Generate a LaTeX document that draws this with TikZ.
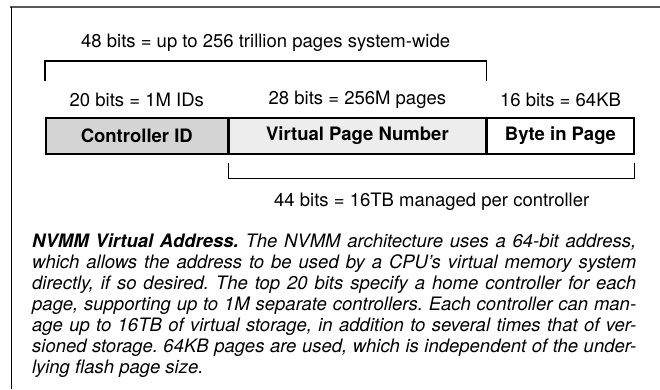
\documentclass[tikz,border=0pt]{standalone}
\usepackage{fontspec}
\setmainfont{TeX Gyre Heros}
\usetikzlibrary{positioning, calc}
\frenchspacing

\definecolor{idgray}{gray}{0.83}
\definecolor{vpngray}{gray}{0.93}
\definecolor{framegray}{gray}{0.35}
\newcommand{\figfont}{\fontsize{18.5}{21}\selectfont}

\begin{document}
\begin{tikzpicture}[
    x=1pt, y=-1pt,
    field/.style={draw, line width=1.6pt, minimum height=36pt, inner sep=0pt, font=\figfont\bfseries},
    bitlabel/.style={font=\figfont, inner sep=0pt},
    bracket/.style={line width=1.3pt},
    caption/.style={font=\figfont\itshape, text width=604pt, align=justify, inner sep=0pt, anchor=north west},
]
\useasboundingbox (0,0) rectangle (660,389);

% ── Frame ──
\draw[framegray, line width=2.2pt] (10,7) -- (660,7);
\draw[line width=0.8pt] (11,7) -- (11,389);

% ── Address fields ──
\node[field, fill=idgray, minimum width=182pt, anchor=north west] (ctrl) at (45,117) {Controller ID};
\node[field, fill=vpngray, minimum width=256pt, right=0pt of ctrl] (vpn) {Virtual Page Number};
\node[field, fill=white, minimum width=147pt, right=0pt of vpn] (byte) {Byte in Page};

% ── Field widths ──
\node[bitlabel] (ctrlbits) at ($(ctrl.north)+(0,-17)$) {20 bits = 1M IDs};
\node[bitlabel] (vpnbits) at ($(vpn.north)+(0,-17)$) {28 bits = 256M pages};
\node[bitlabel] (bytebits) at ($(byte.north)+(0,-17)$) {16 bits = 64KB};

% ── Brackets ──
\draw[bracket] ($(ctrl.north west)+(0,-36)$) -- ++(0,-20) -| ($(vpn.north east)+(0,-36)$);
\node[bitlabel] (span48) at ($(ctrl.north west)!0.5!(vpn.north east)+(0,-74)$) {48 bits = up to 256 trillion pages system-wide};

\draw[bracket] ($(vpn.south west)+(0,8)$) -- ++(0,16) -| ($(byte.south east)+(0,8)$);
\node[bitlabel] (span44) at ($(vpn.south west)!0.5!(byte.south east)+(0,47)$) {44 bits = 16TB managed per controller};

% ── Caption ──
\node[caption] (cap) at (32,234) {{\bfseries NVMM Virtual Address.} The NVMM architecture uses a 64-bit address,\linebreak
which allows the address to be used by a CPU’s virtual memory system\linebreak
directly, if so desired. The top 20 bits specify a home controller for each\linebreak
page, supporting up to 1M separate controllers. Each controller can man-\linebreak
age up to 16TB of virtual storage, in addition to several times that of ver-\linebreak
sioned storage. 64KB pages are used, which is independent of the under-\linebreak
lying flash page size.};

\end{tikzpicture}
\end{document}
